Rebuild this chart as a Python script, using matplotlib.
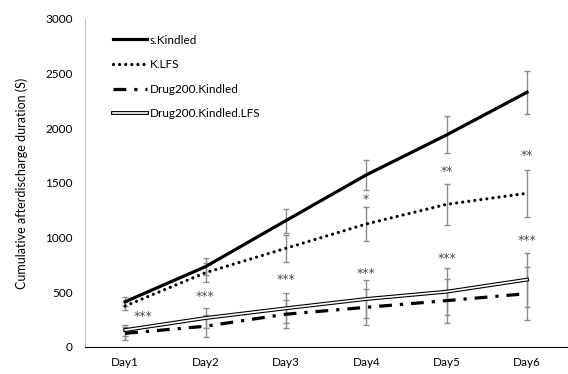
import matplotlib.pyplot as plt
import matplotlib.patheffects as pe

plt.rcParams['font.family'] = ['Lato', 'DejaVu Sans']

# Data
days = ["Day1", "Day2", "Day3", "Day4", "Day5", "Day6"]

s_kindled = [414, 735, 1156, 1574, 1940, 2330]
s_kindled_err = [40, 75, 110, 138, 170, 195]

k_lfs = [375, 680, 903, 1125, 1305, 1406]
k_lfs_err = [40, 90, 125, 155, 185, 215]

drug_kindled = [125, 190, 300, 363, 424, 488]
drug_kindled_err = [60, 100, 130, 165, 202, 241]

drug_kindled_lfs = [155, 265, 354, 439, 506, 616]
drug_kindled_lfs_err = [50, 95, 137, 175, 213, 247]

# significance marks (upper row: K.LFS vs s.Kindled, lower row: drug groups)
stars_low = ["***", "***", "***", "***", "***", "***"]
stars_low_y = [283, 460, 613, 668, 811, 972]
stars_high = ["", "", "", "*", "**", "**"]
stars_high_y = [0, 0, 0, 1351, 1604, 1747]

x = list(range(1, len(days) + 1))

fig = plt.figure(figsize=(5.68, 3.74), dpi=100)
ax = fig.add_axes([0.1496, 0.0722, 0.849, 0.877])

err_kw = dict(fmt="none", ecolor="#8c8c8c", elinewidth=1.0, capsize=2.3, capthick=1.0, zorder=1)
ax.errorbar(x, s_kindled, yerr=s_kindled_err, **err_kw)
ax.errorbar(x, k_lfs, yerr=k_lfs_err, **err_kw)
ax.errorbar(x, drug_kindled, yerr=drug_kindled_err, **err_kw)
ax.errorbar(x, drug_kindled_lfs, yerr=drug_kindled_lfs_err, **err_kw)

ax.plot(x, s_kindled, color="black", lw=2.3, label="s.Kindled", zorder=3)
ax.plot(x, k_lfs, color="black", lw=2.3, linestyle=(0, (0.01, 1.9)),
        dash_capstyle="round", label="K.LFS", zorder=3)
ax.plot(x, drug_kindled, color="black", lw=2.3, linestyle=(0, (4, 2.5, 1, 2.5)),
        dash_capstyle="butt", label="Drug200.Kindled", zorder=3)
ax.plot(x, drug_kindled_lfs, color="white", lw=1.2, label="Drug200.Kindled.LFS", zorder=3,
        path_effects=[pe.Stroke(linewidth=2.8, foreground="black"), pe.Normal()])

for xi, s, y in zip(x, stars_low, stars_low_y):
    dx = 0.22 if xi == 1 else 0
    ax.text(xi + dx, y, s, ha="center", va="center", fontsize=9, color="#4d4d4d",
            family="DejaVu Sans")
for xi, s, y in zip(x, stars_high, stars_high_y):
    if s:
        ax.text(xi, y, s, ha="center", va="center", fontsize=9, color="#4d4d4d",
                family="DejaVu Sans")

ax.set_xlim(0.5, 6.5)
ax.set_ylim(0, 3000)
ax.set_xticks(x)
ax.set_xticklabels(days)
ax.set_yticks(range(0, 3001, 500))
ax.tick_params(length=0, labelsize=8.5, pad=7)
ax.tick_params(axis="y", pad=9)
ax.set_ylabel("Cumulative afterdischarge duration (S)", fontsize=9, labelpad=12)

ax.spines["top"].set_visible(False)
ax.spines["right"].set_visible(False)
ax.spines["left"].set_color("#bfbfbf")
ax.spines["bottom"].set_color("black")

ax.legend(loc="upper left", bbox_to_anchor=(0.036, 0.985), frameon=False, fontsize=8.5,
          handlelength=2.9, handletextpad=0.2, labelspacing=1.15)

fig.savefig("out.png", dpi=100)
